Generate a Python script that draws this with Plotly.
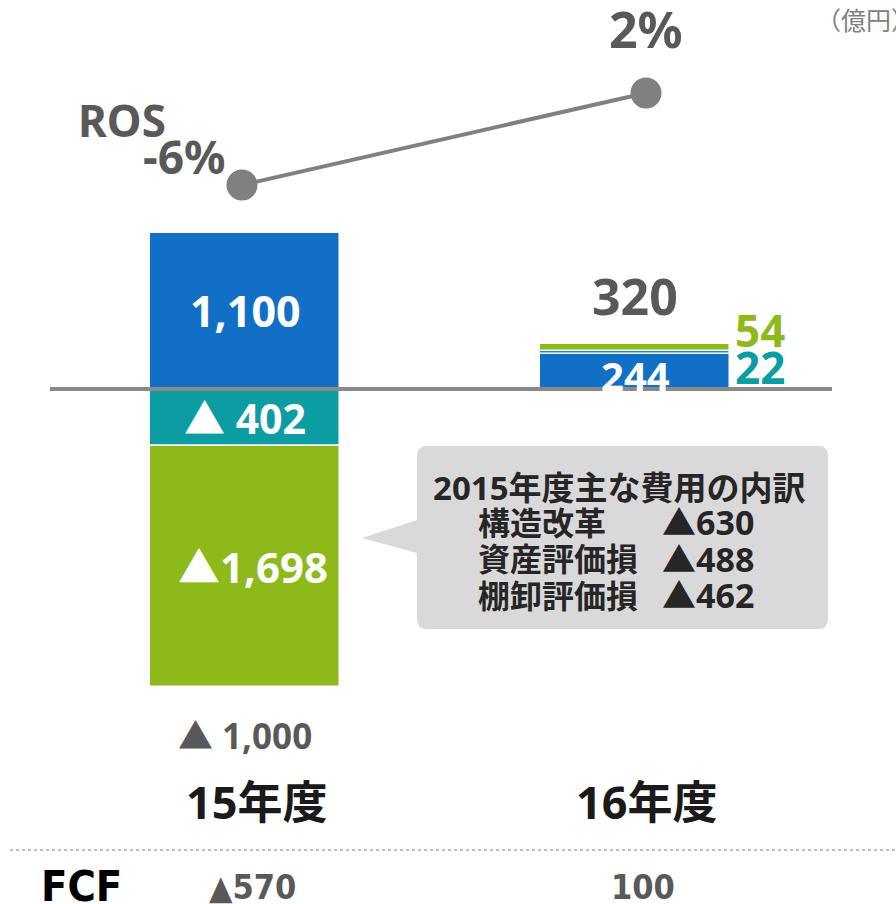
import plotly.graph_objects as go

# ---------------- data ----------------
years = ["15年度", "16年度"]
bar_x = [0, 1]
blue_vals = [1100, 244]
teal_vals = [-402, 22]
green_vals = [-1698, 54]
totals = [-1000, 320]
ros_vals = [-6, 2]
ros_labels = ["-6%", "2%"]
fcf_labels = ["▲570", "100"]
blue_labels = ["1,100", "244"]
teal_labels = ["▲ 402", "22"]
green_labels = ["▲1,698", "54"]
total_labels = ["▲ 1,000", "320"]
callout_title = "2015年度主な費用の内訳"
callout_items = ["構造改革", "資産評価損", "棚卸評価損"]
callout_vals = ["▲630", "▲488", "▲462"]

BLUE = "#116FC5"
TEAL = "#0B9DA1"
GREEN = "#8DB91B"
GRAY_T = "#595959"
LINE_G = "#808080"

W, H = 896, 904
FONT = "Noto Sans, Noto Sans CJK JP, DejaVu Sans"
NARROW = "DejaVu Sans Condensed, Liberation Sans Narrow, DejaVu Sans"


def pxx(x):
    return x / W


def pxy(y):
    return 1 - y / H


# bar axis scale: zero at pixel 389, 0.142 px per unit
S = 0.142
Z = 389
y_range = [-(H - Z) / S, Z / S]
# x axis: 0 -> 245px, 1 -> 635px
XU = 390
x_range = [-245 / XU, (W - 245) / XU]
# ROS axis: -6 -> 185px, 2 -> 93px
RS = 11.5
y2_range = [-6 - (H - 185) / RS, -6 + 185 / RS]
# x2: 0 -> 242px, 1 -> 646px
X2U = 404
x2_range = [-242 / X2U, (W - 242) / X2U]

fig = go.Figure()
for vals, col in [(blue_vals, BLUE), (teal_vals, TEAL), (green_vals, GREEN)]:
    fig.add_trace(go.Bar(x=bar_x, y=vals, width=0.487, marker=dict(color=col, line=dict(color="white", width=1.5)),
                         hoverinfo="skip", showlegend=False))

fig.add_trace(go.Scatter(x=[0, 1], y=ros_vals, xaxis="x2", yaxis="y2", mode="lines+markers",
                         line=dict(color=LINE_G, width=4), marker=dict(size=31, color=LINE_G),
                         hoverinfo="skip", showlegend=False))

ann = []


def A(**kw):
    kw.setdefault("xref", "x")
    kw.setdefault("yref", "y")
    kw.setdefault("showarrow", False)
    kw.setdefault("xanchor", "center")
    kw.setdefault("yanchor", "middle")
    f = kw.setdefault("font", {})
    f.setdefault("family", FONT)
    f.setdefault("weight", "bold")
    ann.append(kw)


# labels inside 15 bars
A(x=0, y=blue_vals[0] / 2, text=blue_labels[0], font=dict(size=43, color="white"))
A(x=0, y=teal_vals[0] / 2, text=teal_labels[0], font=dict(size=41, color="white"))
A(x=0.02, y=teal_vals[0] + green_vals[0] / 2, text=green_labels[0], font=dict(size=42, color="white"))
A(x=0, y=teal_vals[0] + green_vals[0], text=total_labels[0], yanchor="top", yshift=-23,
  font=dict(size=35, color=GRAY_T))
# 16 labels
A(x=1, y=blue_vals[1] / 2, text=blue_labels[1], yshift=-4, font=dict(size=40, color="white"))
A(x=1, y=totals[1], text=total_labels[1], yanchor="bottom", yshift=12, font=dict(size=50, color=GRAY_T))
A(x=1.32, y=blue_vals[1] + teal_vals[1] + green_vals[1], text=green_labels[1], yshift=14,
  font=dict(size=44, color=GREEN))
A(x=1.32, y=blue_vals[1] / 2, text=teal_labels[1], yshift=5, font=dict(size=44, color=TEAL))

# ROS labels
A(xref="x2", yref="y2", x=0, y=ros_vals[0], text=ros_labels[0], xanchor="right", yanchor="bottom",
  xshift=-14, yshift=-4, font=dict(size=46, color=GRAY_T))
A(xref="x2", yref="y2", x=1, y=ros_vals[1], text=ros_labels[1], yanchor="bottom", yshift=28,
  font=dict(size=50, color=GRAY_T))
A(xref="paper", yref="paper", x=pxx(122), y=pxy(120), text="ROS", font=dict(size=44, color=GRAY_T))
A(xref="paper", yref="paper", x=pxx(814), y=pxy(19), text="（億円）", xanchor="left",
  font=dict(size=25, color="#808080", family="Noto Sans CJK JP", weight="normal"))

# category labels
for i, yr in enumerate(years):
    A(xref="x", yref="paper", x=bar_x[i] + 0.03, y=pxy(801), text=yr, font=dict(size=45, color="#1a1a1a"))
    A(xref="x", yref="paper", x=bar_x[i] + 0.02, y=pxy(887), text=fcf_labels[i],
      font=dict(size=34, color=GRAY_T, family=NARROW))
A(xref="paper", yref="paper", x=pxx(81), y=pxy(886), text="FCF", font=dict(size=43, color="black", family=NARROW))

# callout text
A(xref="paper", yref="paper", x=pxx(619), y=pxy(488), text=callout_title, font=dict(size=33, color="#262626"))
for i, (it, v) in enumerate(zip(callout_items, callout_vals)):
    yy = pxy(522 + 36.5 * i)
    A(xref="paper", yref="paper", x=pxx(476), y=yy, text=it, xanchor="left", font=dict(size=32, color="#262626"))
    A(xref="paper", yref="paper", x=pxx(660), y=yy, text=v, xanchor="left", font=dict(size=34, color="#262626"))

# callout shape
r = 10
x0, x1, y0, y1 = 417, 828, 446, 629
pts = [
    ("M", x0 + r, y0), ("L", x1 - r, y0), ("Q", x1, y0, x1, y0 + r), ("L", x1, y1 - r),
    ("Q", x1, y1, x1 - r, y1), ("L", x0 + r, y1), ("Q", x0, y1, x0, y1 - r), ("L", x0, 553),
    ("L", 362, 538), ("L", x0, 520), ("L", x0, y0 + r), ("Q", x0, y0, x0 + r, y0),
]
path = ""
for p in pts:
    cmd = p[0]
    coords = p[1:]
    s = []
    for k in range(0, len(coords), 2):
        s.append(f"{pxx(coords[k]):.5f},{pxy(coords[k + 1]):.5f}")
    path += cmd + " " + " ".join(s) + " "
path += "Z"

shapes = [
    dict(type="path", xref="paper", yref="paper", path=path, fillcolor="#D9D9D9", line=dict(width=0), layer="below"),
    dict(type="line", xref="paper", yref="y", x0=pxx(50), x1=pxx(832), y0=0, y1=0,
         line=dict(color="#898989", width=4), layer="above"),
    dict(type="line", xref="paper", yref="paper", x0=pxx(10), x1=1, y0=pxy(850), y1=pxy(850),
         line=dict(color="#BFBFBF", width=2, dash="dot")),
]

fig.update_layout(
    width=W, height=H, margin=dict(l=0, r=0, t=0, b=0),
    paper_bgcolor="white", plot_bgcolor="white",
    barmode="relative", bargap=0,
    xaxis=dict(range=x_range, visible=False, fixedrange=True),
    yaxis=dict(range=y_range, visible=False, fixedrange=True),
    xaxis2=dict(range=x2_range, visible=False, overlaying="x", fixedrange=True),
    yaxis2=dict(range=y2_range, visible=False, overlaying="y", fixedrange=True),
    annotations=ann, shapes=shapes,
)
fig.write_html("out.html", config={"displayModeBar": False},
               post_script="document.body.style.margin='0';document.body.style.overflow='hidden';")
